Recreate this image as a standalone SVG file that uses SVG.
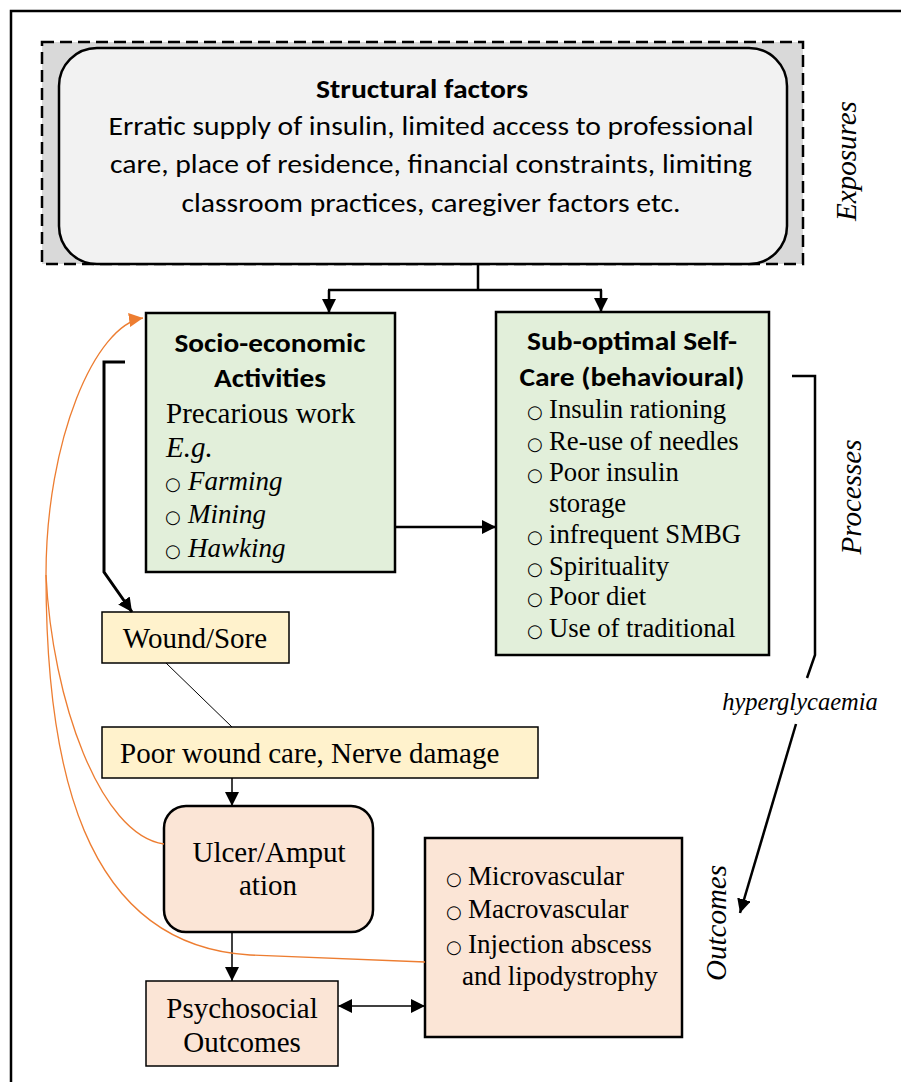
<svg xmlns="http://www.w3.org/2000/svg" width="901" height="1082" viewBox="0 0 901 1082">
<defs>
<marker id="ah" markerUnits="userSpaceOnUse" markerWidth="14" markerHeight="14" refX="12" refY="6" orient="auto-start-reverse" viewBox="0 0 12 12">
<path d="M0,0 L12,6 L0,12 z" fill="#000"/>
</marker>
<marker id="aho" markerUnits="userSpaceOnUse" markerWidth="14" markerHeight="14" refX="12" refY="6" orient="auto" viewBox="0 0 12 12">
<path d="M0,0 L12,6 L0,12 z" fill="#ed7d31"/>
</marker>
<style>
.cal{font-family:Carlito,Lato,"Liberation Sans",sans-serif;fill:#000}
.calb{font-family:Carlito,Lato,"Liberation Sans",sans-serif;font-weight:bold;fill:#000}
.tnr{font-family:"Liberation Serif","Times New Roman",serif;fill:#000}
.tnri{font-family:"Liberation Serif","Times New Roman",serif;font-style:italic;fill:#000}
.bul{font-family:"DejaVu Sans",sans-serif;fill:#000}
.box{stroke:#000;stroke-width:2.5}
.thin{stroke:#000;stroke-width:1.5}
.green{fill:#e2efda}
.yellow{fill:#fff2cc}
.peach{fill:#fbe5d6}
.con{fill:none;stroke:#000}
.org{fill:none;stroke:#ed7d31;stroke-width:1.3}
</style>
</defs>
<rect x="0" y="0" width="901" height="1082" fill="#fff"/>
<rect id="frame" x="11" y="11" width="905" height="1090" fill="none" stroke="#000" stroke-width="2.5"/>

<g id="structural">
<rect x="42" y="42" width="761" height="222" fill="#d9d9d9" stroke="#000" stroke-width="2.5" stroke-dasharray="12 6"/>
<rect x="59" y="48" width="728" height="216" rx="38" ry="38" fill="#f2f2f2" class="box"/>
<text class="calb" x="422" y="98" font-size="26" text-anchor="middle" textLength="212" lengthAdjust="spacingAndGlyphs">Structural factors</text>
<text class="cal" x="431" y="135" font-size="26" text-anchor="middle" textLength="645" lengthAdjust="spacingAndGlyphs">Erratic supply of insulin, limited access to professional</text>
<text class="cal" x="431" y="173" font-size="26" text-anchor="middle" textLength="642" lengthAdjust="spacingAndGlyphs">care, place of residence, financial constraints, limiting</text>
<text class="cal" x="431" y="212" font-size="26" text-anchor="middle" textLength="499" lengthAdjust="spacingAndGlyphs">classroom practices, caregiver factors etc.</text>
</g>

<g id="socio">
<rect x="146" y="313" width="249" height="259" class="box green"/>
<text class="calb" x="270" y="352" font-size="27" text-anchor="middle" textLength="191" lengthAdjust="spacingAndGlyphs">Socio-economic</text>
<text class="calb" x="270" y="387" font-size="27" text-anchor="middle" textLength="112" lengthAdjust="spacingAndGlyphs">Activities</text>
<text class="tnr" x="166" y="423" font-size="29">Precarious work</text>
<text class="tnri" x="166" y="457" font-size="29">E.g.</text>
<text class="bul" x="165" y="490" font-size="18">○</text>
<text class="tnri" x="188" y="490" font-size="27">Farming</text>
<text class="bul" x="165" y="523" font-size="18">○</text>
<text class="tnri" x="188" y="523" font-size="27">Mining</text>
<text class="bul" x="165" y="557" font-size="18">○</text>
<text class="tnri" x="188" y="557" font-size="27">Hawking</text>
</g>

<g id="selfcare">
<rect x="496" y="312" width="273" height="343" class="box green"/>
<text class="calb" x="632" y="350" font-size="27" text-anchor="middle" textLength="210" lengthAdjust="spacingAndGlyphs">Sub-optimal Self-</text>
<text class="calb" x="632" y="386" font-size="27" text-anchor="middle" textLength="225" lengthAdjust="spacingAndGlyphs">Care (behavioural)</text>
<g class="bul" font-size="18">
<text x="527" y="418">○</text>
<text x="527" y="450">○</text>
<text x="527" y="481">○</text>
<text x="527" y="543">○</text>
<text x="527" y="575">○</text>
<text x="527" y="605">○</text>
<text x="527" y="637">○</text>
</g>
<g class="tnr" font-size="26.7">
<text x="549" y="418">Insulin rationing</text>
<text x="549" y="450">Re-use of needles</text>
<text x="549" y="481">Poor insulin</text>
<text x="549" y="512">storage</text>
<text x="549" y="543">infrequent SMBG</text>
<text x="549" y="575">Spirituality</text>
<text x="549" y="605">Poor diet</text>
<text x="549" y="637">Use of traditional</text>
</g>
</g>

<g id="wound">
<rect x="102" y="612" width="187" height="51" class="thin yellow"/>
<text class="tnr" x="195" y="648" font-size="29" text-anchor="middle">Wound/Sore</text>
</g>

<g id="poorcare">
<rect x="102" y="727" width="436" height="51" class="thin yellow"/>
<text class="tnr" x="120" y="763" font-size="29">Poor wound care, Nerve damage</text>
</g>

<g id="ulcer">
<rect x="164" y="806" width="209" height="126" rx="22" ry="22" class="box peach"/>
<text class="tnr" x="269" y="862" font-size="29" text-anchor="middle">Ulcer/Amput</text>
<text class="tnr" x="268" y="895" font-size="29" text-anchor="middle">ation</text>
</g>

<g id="psychosocial">
<rect x="146" y="981" width="192" height="85" class="thin peach"/>
<text class="tnr" x="242" y="1018" font-size="29" text-anchor="middle">Psychosocial</text>
<text class="tnr" x="242" y="1052" font-size="29" text-anchor="middle">Outcomes</text>
</g>

<g id="outcomes">
<rect x="425" y="838" width="257" height="199" class="box peach"/>
<g class="bul" font-size="18">
<text x="446" y="885">○</text>
<text x="446" y="918">○</text>
<text x="446" y="953">○</text>
</g>
<g class="tnr" font-size="27">
<text x="468" y="885">Microvascular</text>
<text x="468" y="918">Macrovascular</text>
<text x="468" y="953">Injection abscess</text>
<text x="462" y="985">and lipodystrophy</text>
</g>
</g>

<g id="labels">
<text class="tnri" font-size="29" text-anchor="middle" transform="translate(856,161) rotate(-90)">Exposures</text>
<text class="tnri" font-size="29" text-anchor="middle" transform="translate(861,497) rotate(-90)">Processes</text>
<text class="tnri" font-size="29" text-anchor="middle" transform="translate(726,923) rotate(-90)">Outcomes</text>
<text class="tnri" x="800" y="710" font-size="24.5" text-anchor="middle">hyperglycaemia</text>
</g>

<g id="connectors">
<path class="con" stroke-width="2.5" d="M478,264 V290 M328,290 H602"/>
<path class="con" stroke-width="2.5" d="M329,290 V313" marker-end="url(#ah)"/>
<path class="con" stroke-width="2.5" d="M601,290 V312" marker-end="url(#ah)"/>
<path class="con" stroke-width="2.5" d="M395,527 H496" marker-end="url(#ah)"/>
<path class="con" stroke-width="3" d="M125,362 H104 V572 L132,612" marker-end="url(#ah)"/>
<path class="con" stroke-width="1" d="M166,663 L232,727"/>
<path class="con" stroke-width="1.5" d="M232,778 V806" marker-end="url(#ah)"/>
<path class="con" stroke-width="1.5" d="M232,932 V981" marker-end="url(#ah)"/>
<path class="con" stroke-width="1.5" d="M338,1006 H425" marker-start="url(#ah)" marker-end="url(#ah)"/>
<path class="con" stroke-width="2.5" d="M792,376 H815 V655 L807,678"/>
<path class="con" stroke-width="2.5" d="M796,724 L740,913" marker-end="url(#ah)"/>
<path class="org" d="M46,575 C46,440 95,325 143,318" marker-end="url(#aho)"/>
<path class="org" d="M164,844 C100,835 52,700 46,575"/>
<path class="org" d="M425,962 L250,955 C80,945 46,760 46,575"/>
</g>
</svg>
